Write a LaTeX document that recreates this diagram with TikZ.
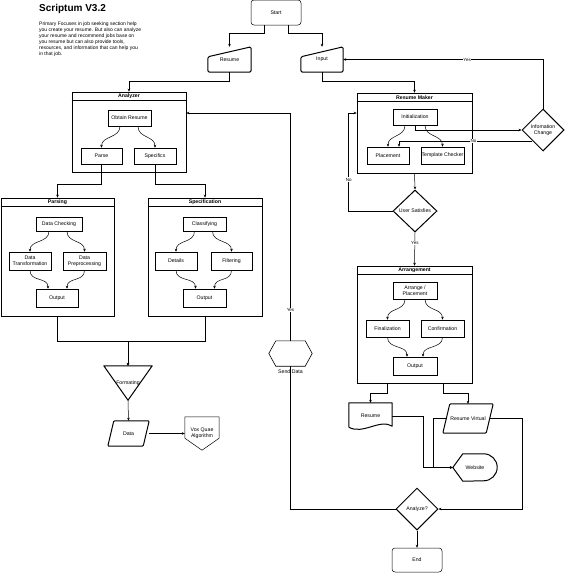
\documentclass[tikz,border=0pt]{standalone}
\usepackage{fontspec}
\setmainfont{Liberation Sans}
\usetikzlibrary{positioning,arrows.meta,calc,shapes.geometric}

\tikzset{
  txt/.style={font=\fontsize{5.2}{6}\selectfont, align=center, inner sep=0pt},
  sz/.style 2 args={minimum width=#1pt, minimum height=#2pt},
  proc/.style={txt, draw, line width=0.5pt},
  cont/.style={draw, line width=0.6pt, inner sep=0pt},
  head/.style={font=\fontsize{5.2}{6}\selectfont\bfseries, inner sep=0pt},
  hold/.style={txt},
  heavy/.style={line width=1pt, line join=round},
  dec/.style={txt, draw, diamond, line width=1pt, sz={42}{42}},
  lbl/.style={font=\fontsize{4.5}{5}\selectfont, fill=white, inner sep=0.6pt},
  link/.style={->, line width=0.5pt},
  sway/.style={to path={.. controls +(0,12) and +(0,-12) .. (\tikztotarget)}},
}

\begin{document}
\begin{tikzpicture}[x=1pt, y=-1pt, >={Stealth[length=3pt,width=2.6pt]}]
\useasboundingbox (0,0) rectangle (565,573);

% Title and notes
\node[anchor=west, inner sep=0pt, font=\fontsize{10}{12}\selectfont\bfseries] (title) at (39,9) {Scriptum V3.2};
\node[anchor=north west, inner sep=0pt, align=left, font=\fontsize{5}{6}\selectfont] (notes) at (39,21.5)
  {Primary Focuses in job seeking section help\\
   you create your resume. But also can analyze\\
   your resume and recommend jobs base on\\
   you resume but can also provide tools,\\
   resources, and information that can help you\\
   in that job.};

% Start and the two entries
\node[proc, rounded corners=3pt, sz={50}{25}] (start) at (276,12.5) {Start};
\node[hold, sz={43}{25}] (resume) at (229.5,59.5) {Resume};
\draw[heavy, rounded corners=1.5pt] ([yshift=-10]resume.north west) -- (resume.north east) -- (resume.south east) -- (resume.south west) -- cycle;
\node[hold, sz={42}{25}] (input) at (322,59.5) {Input};
\draw[heavy, rounded corners=1.5pt] ([yshift=-10]input.north west) -- (input.north east) -- (input.south east) -- (input.south west) -- cycle;

% Containers
\node[cont, sz={114}{80}] (analyzer) at (129,132) {};
\node[cont, sz={113}{118}] (parsing) at (57.5,257) {};
\node[cont, sz={114}{118}] (spec) at (205,257) {};
\node[cont, sz={115}{80}] (rmaker) at (414.5,133) {};
\node[cont, sz={115}{117}] (arrange) at (414.5,324.5) {};
\foreach \c/\t in {analyzer/Analyzer, parsing/Parsing, spec/Specification, rmaker/Resume Maker, arrange/Arrangement}{
  \draw[line width=0.6pt] ([yshift=-9]\c.north west) -- ([yshift=-9]\c.north east);
  \node[head] (\c-t) at ([yshift=-4.5]\c.north) {\t};
}

% Analyzer
\node[proc, sz={43}{16}] (obtain) at (129.5,118) {Obtain Resume};
\node[proc, sz={41}{16}] (parse) at (101.5,156) {Parse};
\node[proc, sz={42}{16}] (specifics) at (155,156) {Specifics};

% Parsing
\node[proc, sz={46}{14}] (dcheck) at (59,224) {Data Checking};
\node[proc, sz={42}{18}] (dtrans) at (30,261) {Data\\Transformation};
\node[proc, sz={43}{18}] (dprep) at (84.5,261) {Data\\Preprocessing};
\node[proc, sz={42}{18}] (pout) at (57,298) {Output};

% Specification
\node[proc, sz={43}{14}] (classif) at (204.5,224) {Classifying};
\node[proc, sz={42}{18}] (details) at (176,261) {Details};
\node[proc, sz={41}{18}] (filter) at (231.5,261) {Filtering};
\node[proc, sz={43}{18}] (sout) at (204.5,298) {Output};

% Resume Maker
\node[proc, sz={44}{16}] (init) at (415,117) {Initialization};
\node[proc, sz={42}{17}] (placement) at (388,155.5) {Placement};
\node[proc, sz={43}{17}] (tcheck) at (442.5,155.5) {Template Checker};
\node[dec] (infochange) at (543,130) {Infomation\\Change};
\node[dec, sz={44}{42}] (usersat) at (415,211) {User Satisfies};

% Arrangement
\node[proc, sz={44}{17}] (arrplace) at (415,290.5) {Arrange /\\Placement};
\node[proc, sz={43}{17}] (final) at (387.5,328.5) {Finalization};
\node[proc, sz={43}{17}] (confirm) at (442.5,328.5) {Confirmation};
\node[proc, sz={44}{18}] (aout) at (415,366) {Output};

% Outputs
\node[hold, sz={43}{26}] (resdoc) at (370.5,416) {Resume};
\draw[heavy] ([yshift=2]resdoc.south west) -- (resdoc.north west) -- (resdoc.north east) -- ([yshift=3]resdoc.south east)
  .. controls +(-12,-8) and +(14,8) .. ([yshift=2]resdoc.south west);
\node[hold, sz={50}{29}] (resvirt) at (468,418.5) {Resume Virtual};
\draw[heavy, rounded corners=1pt] ([xshift=7]resvirt.north west) -- (resvirt.north east) -- ([xshift=-7]resvirt.south east) -- (resvirt.south west) -- cycle;
\node[hold, sz={44}{27}] (website) at (475,467.5) {Website};
\draw[heavy] (website.west) -- ([xshift=10]website.north west) -- ([xshift=-13.5]website.north east)
  arc[start angle=-90, end angle=90, radius=13.5] -- ([xshift=10]website.south west) -- cycle;
\node[dec] (analyze) at (417,509) {Analyze?};
\node[proc, rounded corners=3pt, sz={50}{24}] (end) at (417,560) {End};

% Send data
\node[hold, sz={43}{25}] (senddata) at (290.5,353.5) {};
\draw[line width=0.6pt] ([xshift=7]senddata.north west) -- ([xshift=-7]senddata.north east) -- (senddata.east)
  -- ([xshift=-7]senddata.south east) -- ([xshift=7]senddata.south west) -- (senddata.west) -- cycle;
\node[txt, below=3pt of senddata] (sendlbl) {Send Data};

% Formating and data
\node[hold, sz={48}{34}] (formating) at (128,383) {Formating};
\draw[heavy] (formating.north west) -- (formating.north east) -- (formating.south) -- cycle;
\node[hold, sz={41}{25}] (data) at (128.5,433.5) {Data};
\draw[heavy, rounded corners=1pt] ([xshift=6]data.north west) -- (data.north east) -- ([xshift=-6]data.south east) -- (data.south west) -- cycle;
\node[hold, sz={34}{33}] (vox) at (202,433.5) {Vox Quae\\Algorithm};
\draw[line width=0.5pt] (vox.north west) -- (vox.north east) -- ([yshift=12]vox.south east) -- (vox.south) -- ([yshift=12]vox.south west) -- cycle;

% Connectors
\draw[link] ([xshift=-12]start.south) -- ++(0,8) -| (resume.north);
\draw[link] ([xshift=12]start.south) -- ++(0,8) -| (input.north);
\draw[link] (resume.south) -- ++(0,9) -| (analyzer.north);
\draw[link] (input.south) -- ++(0,9) -| (rmaker.north);

\draw[link] ([xshift=-9.5]obtain.south) to[sway] (parse.north);
\draw[link] ([xshift=8.5]obtain.south) to[sway] (specifics.north);
\draw[link] (parse.south) -- ++(0,20) -| (parsing.north);
\draw[link] (specifics.south) -- ++(0,20) -| (spec.north);

\draw[link] ([xshift=-10]dcheck.south) to[sway] (dtrans.north);
\draw[link] ([xshift=8]dcheck.south) to[sway] (dprep.north);
\draw[link] (dtrans.south) to[sway] ([xshift=-9]pout.north);
\draw[link] (dprep.south) to[sway] ([xshift=10]pout.north);

\draw[link] ([xshift=-10]classif.south) to[sway] (details.north);
\draw[link] ([xshift=8]classif.south) to[sway] (filter.north);
\draw[link] (details.south) to[sway] ([xshift=-9]sout.north);
\draw[link] (filter.south) to[sway] ([xshift=10]sout.north);

\draw[link] (parsing.south) -- ++(0,25) -| (formating.north);
\draw[link] (spec.south) -- ++(0,25) -| (formating.north);
\draw[link] (formating.south) -- (data.north);
\draw[link] (data.east) -- (vox.west);

\draw[link] ([xshift=-10]init.south) to[sway] (placement.north);
\draw[link] ([xshift=10]init.south) to[sway] (tcheck.north);
\draw[link] (init.south) |- (infochange.west);
\draw[link] (infochange.south west) -| node[lbl, pos=0.22]{No} ([xshift=11]placement.north);
\draw[link] (infochange.north) |- node[lbl, pos=0.69]{Yes} (input.east);
\draw[link] (rmaker.south) -- (usersat.north);
\draw[link] (usersat.west) -| node[lbl, pos=0.66]{No} ([xshift=-8,yshift=20]rmaker.west) -- ([yshift=20]rmaker.west);
\draw[link] (usersat.south) -- node[lbl, pos=0.32]{Yes} (arrange.north);

\draw[link] ([xshift=-10]arrplace.south) to[sway] (final.north);
\draw[link] ([xshift=10]arrplace.south) to[sway] (confirm.north);
\draw[link] (final.south) to[sway] ([xshift=-8]aout.north);
\draw[link] (confirm.south) to[sway] ([xshift=8]aout.north);

\draw[link] ([xshift=-27.5]arrange.south) -- ++(0,10) -| (resdoc.north);
\draw[link] ([xshift=28.5]arrange.south) -- ++(0,10) -| (resvirt.north);
\draw[link] (resdoc.east) -- ++(31,0) |- (website.west);
\draw[link] ([xshift=3.5]resvirt.west) -- ++(-13.5,0) |- (website.west);
\draw[link] ([xshift=-3.5]resvirt.east) -- ++(32.5,0) |- (analyze.east);
\draw[link] (analyze.south) -- (end.north);

\draw[line width=0.5pt] (analyze.west) -| (senddata.south);
\draw[link] (senddata.north) |- node[lbl, pos=0.068]{Yes} ([yshift=19]analyzer.east);

\end{tikzpicture}
\end{document}
